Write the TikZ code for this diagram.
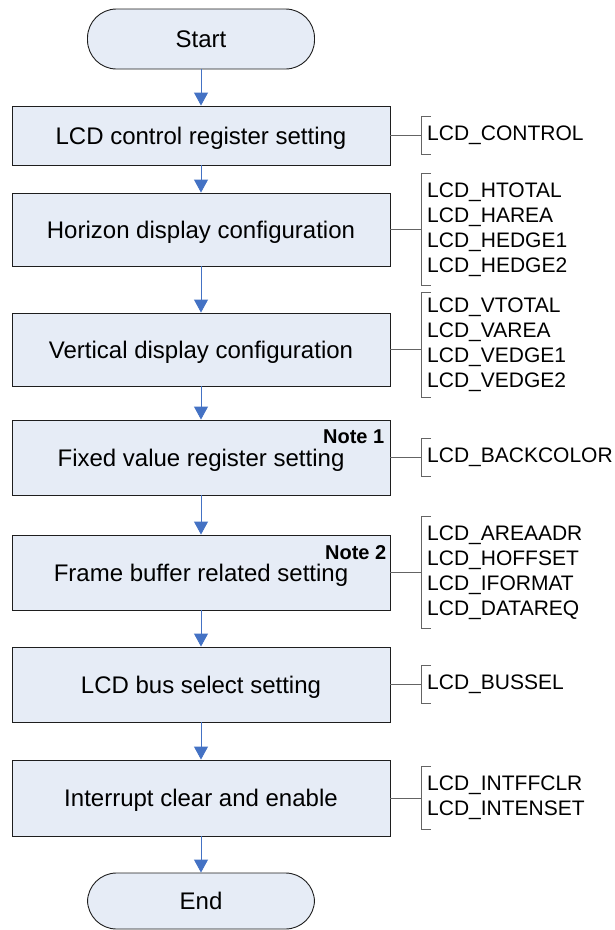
\documentclass[tikz,border=0pt]{standalone}
\usepackage{fontspec}
\setmainfont{Liberation Sans}
\usetikzlibrary{arrows.meta,calc}

\definecolor{boxfill}{RGB}{230,236,246}
\definecolor{flowblue}{RGB}{68,114,196}
\definecolor{regline}{RGB}{100,100,100}
\definecolor{boxline}{RGB}{30,30,30}

\tikzset{
  stepbox/.style={draw=boxline, line width=0.9pt, fill=boxfill, minimum width=378pt,
    inner sep=0pt, font=\fontsize{24}{28}\selectfont, text depth=0pt},
  terminal/.style={stepbox, minimum width=227pt, minimum height=60pt, rounded corners=29pt},
  flow/.style={draw=flowblue, line width=0.9pt, -{Triangle[width=14pt,length=13pt]}},
  notelabel/.style={font=\fontsize{20}{24}\selectfont\bfseries, inner sep=0pt,
    anchor=east, text depth=0pt},
  reglist/.style={anchor=west, align=left, inner xsep=6pt, inner ysep=0pt,
    font=\fontsize{21}{25}\selectfont},
  regwire/.style={draw=regline, line width=0.9pt},
}

% bracket on the left side of a register list, joined level to its step box
\newcommand{\reglink}[2]{%
  \draw[regwire] (#1.east) -- (#1.east -| #2.west);
  \draw[regwire] ([xshift=10pt]#2.north west) -- (#2.north west)
    -- (#2.south west) -- ([xshift=10pt]#2.south west);
}

\begin{document}
\begin{tikzpicture}[x=1pt,y=-1pt]
  \useasboundingbox (0,0) rectangle (615,930);

  % main flow
  \node[terminal] (start) at (201,39) {Start};
  \node[stepbox, minimum height=59pt] (b1) at (201,135.5) {LCD control register setting};
  \node[stepbox, minimum height=73pt] (b2) at (201,229.5) {Horizon display configuration};
  \node[stepbox, minimum height=73pt] (b3) at (201,349.5) {Vertical display configuration};
  \node[stepbox, minimum height=75pt] (b4) at (201,457.5) {Fixed value register setting};
  \node[stepbox, minimum height=75pt] (b5) at (201,572.5) {Frame buffer related setting};
  \node[stepbox, minimum height=75pt] (b6) at (201,684.5) {LCD bus select setting};
  \node[stepbox, minimum height=76pt] (b7) at (201,798) {Interrupt clear and enable};
  \node[terminal, minimum height=56pt] (end) at (201,901) {End};

  % notes
  \node[notelabel] (n1) at ($(b4.north east)+(-6,17.5)$) {Note 1};
  \node[notelabel] (n2) at ($(b5.north east)+(-4,18)$) {Note 2};

  % arrows
  \draw[flow] (start) -- (b1);
  \draw[flow] (b1) -- (b2);
  \draw[flow] (b2) -- (b3);
  \draw[flow] (b3) -- (b4);
  \draw[flow] (b4) -- (b5);
  \draw[flow] (b5) -- (b6);
  \draw[flow] (b6) -- (b7);
  \draw[flow] (b7) -- (end);

  % register lists
  \node[reglist, minimum height=37pt] (r1) at (421,135.5) {LCD\_CONTROL};
  \node[reglist, minimum height=112pt] (r2) at (421,229.5)
    {LCD\_HTOTAL\\LCD\_HAREA\\LCD\_HEDGE1\\LCD\_HEDGE2};
  \node[reglist, minimum height=104pt] (r3) at (421,345)
    {LCD\_VTOTAL\\LCD\_VAREA\\LCD\_VEDGE1\\LCD\_VEDGE2};
  \node[reglist, minimum height=37pt] (r4) at (421,457.5) {LCD\_BACKCOLOR};
  \node[reglist, minimum height=112pt] (r5) at (421,572.5)
    {LCD\_AREAADR\\LCD\_HOFFSET\\LCD\_IFORMAT\\LCD\_DATAREQ};
  \node[reglist, minimum height=37pt] (r6) at (421,684.5) {LCD\_BUSSEL};
  \node[reglist, minimum height=62pt] (r7) at (421,798) {LCD\_INTFFCLR\\LCD\_INTENSET};

  \reglink{b1}{r1}
  \reglink{b2}{r2}
  \reglink{b3}{r3}
  \reglink{b4}{r4}
  \reglink{b5}{r5}
  \reglink{b6}{r6}
  \reglink{b7}{r7}
\end{tikzpicture}
\end{document}
